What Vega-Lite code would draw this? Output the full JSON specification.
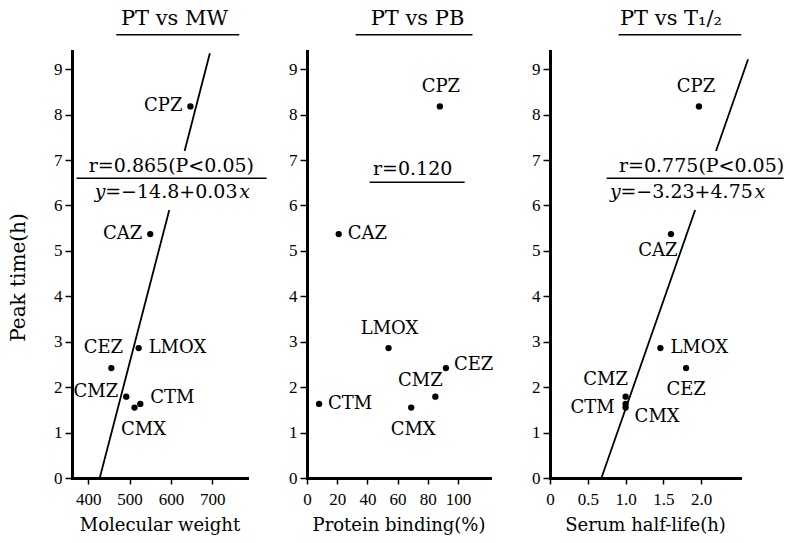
{
  "$schema": "https://vega.github.io/schema/vega-lite/v6.json",
  "padding": {"left": 8, "top": 7, "right": 0, "bottom": 2},
  "background": "white",
  "data": {"values": [
    {"drug": "CPZ", "pt": 8.18, "mw": 647, "pb": 88, "th": 1.97},
    {"drug": "CAZ", "pt": 5.37, "mw": 550, "pb": 21, "th": 1.60},
    {"drug": "LMOX", "pt": 2.86, "mw": 522, "pb": 54, "th": 1.46},
    {"drug": "CEZ", "pt": 2.42, "mw": 456, "pb": 92, "th": 1.80},
    {"drug": "CMZ", "pt": 1.79, "mw": 492, "pb": 85, "th": 1.0},
    {"drug": "CMX", "pt": 1.55, "mw": 512, "pb": 69, "th": 1.0},
    {"drug": "CTM", "pt": 1.63, "mw": 526, "pb": 8, "th": 1.0}
  ]},
  "spacing": 60,
  "bounds": "flush",
  "hconcat": [
    {
      "width": 175, "height": 427,
      "title": {"text": "PT vs MW", "dx": 15},
      "layer": [
        {"mark": {"type": "circle", "size": 40, "color": "black", "opacity": 1},
         "encoding": {
           "x": {"field": "mw", "type": "quantitative", "scale": {"domain": [361, 783.7], "nice": false, "zero": false},
                 "axis": {"values": [400, 500, 600, 700], "tickCount": 10, "title": "Molecular weight", "labelOverlap": false}},
           "y": {"field": "pt", "type": "quantitative", "scale": {"domain": [0, 9.4], "nice": false},
                 "axis": {"values": [0, 1, 2, 3, 4, 5, 6, 7, 8, 9], "tickCount": 12, "title": "Peak time(h)", "titlePadding": 25, "titleY": 226, "labelOverlap": false}}}},
        {"data": {"values": [{}]}, "mark": {"type": "rule", "strokeWidth": 1.5, "color": "black"},
         "encoding": {"x": {"datum": 468}, "x2": {"datum": 765}, "y": {"datum": 9.76}}},
        {"data": {"values": [{"mw": 428, "pt": 0, "seg": "a"}, {"mw": 596, "pt": 5.9, "seg": "a"}, {"mw": 633, "pt": 7.2, "seg": "b"}, {"mw": 694, "pt": 9.35, "seg": "b"}]},
         "mark": {"type": "line", "color": "black", "strokeWidth": 1.8},
         "encoding": {"x": {"field": "mw", "type": "quantitative"}, "y": {"field": "pt", "type": "quantitative"}, "detail": {"field": "seg"}}},
        {"data": {"values": [{}]}, "mark": {"type": "rule", "strokeWidth": 1.5, "color": "black"},
         "encoding": {"x": {"datum": 372}, "x2": {"datum": 831}, "y": {"datum": 6.60}}},
        {"data": {"values": [{}]}, "mark": {"type": "text", "fontSize": 19, "align": "center", "baseline": "alphabetic"},
         "encoding": {"x": {"datum": 601}, "y": {"datum": 6.73}, "text": {"value": "r=0.865(P<0.05)"}}},
        {"data": {"values": [{}]}, "mark": {"type": "text", "fontSize": 19, "align": "center", "baseline": "alphabetic"},
         "encoding": {"x": {"datum": 601}, "y": {"datum": 6.16}, "text": {"value": "=−14.8+0.03"}}},
        {"data": {"values": [{}]}, "mark": {"type": "text", "fontSize": 19, "align": "right", "baseline": "alphabetic", "fontStyle": "italic", "dx": -66},
         "encoding": {"x": {"datum": 601}, "y": {"datum": 6.16}, "text": {"value": "y"}}},
        {"data": {"values": [{}]}, "mark": {"type": "text", "fontSize": 19, "align": "left", "baseline": "alphabetic", "fontStyle": "italic", "dx": 68},
         "encoding": {"x": {"datum": 601}, "y": {"datum": 6.16}, "text": {"value": "x"}}},
        {"transform": [{"filter": {"field": "drug", "oneOf": ["CPZ", "CAZ"]}}],
         "mark": {"type": "text", "align": "right", "baseline": "middle", "dx": -8, "dy": 0, "fontSize": 18},
         "encoding": {"x": {"field": "mw", "type": "quantitative"}, "y": {"field": "pt", "type": "quantitative"}, "text": {"field": "drug"}}},
        {"transform": [{"filter": {"field": "drug", "oneOf": ["CMZ"]}}],
         "mark": {"type": "text", "align": "right", "baseline": "middle", "dx": -8, "dy": -5, "fontSize": 18},
         "encoding": {"x": {"field": "mw", "type": "quantitative"}, "y": {"field": "pt", "type": "quantitative"}, "text": {"field": "drug"}}},
        {"transform": [{"filter": {"field": "drug", "oneOf": ["LMOX"]}}],
         "mark": {"type": "text", "align": "left", "baseline": "middle", "dx": 10, "dy": 0, "fontSize": 18},
         "encoding": {"x": {"field": "mw", "type": "quantitative"}, "y": {"field": "pt", "type": "quantitative"}, "text": {"field": "drug"}}},
        {"transform": [{"filter": {"field": "drug", "oneOf": ["CTM"]}}],
         "mark": {"type": "text", "align": "left", "baseline": "middle", "dx": 10, "dy": -6, "fontSize": 18},
         "encoding": {"x": {"field": "mw", "type": "quantitative"}, "y": {"field": "pt", "type": "quantitative"}, "text": {"field": "drug"}}},
        {"transform": [{"filter": {"field": "drug", "oneOf": ["CEZ"]}}],
         "mark": {"type": "text", "align": "center", "baseline": "middle", "dx": -8, "dy": -20, "fontSize": 18},
         "encoding": {"x": {"field": "mw", "type": "quantitative"}, "y": {"field": "pt", "type": "quantitative"}, "text": {"field": "drug"}}},
        {"transform": [{"filter": {"field": "drug", "oneOf": ["CMX"]}}],
         "mark": {"type": "text", "align": "center", "baseline": "middle", "dx": 9, "dy": 22, "fontSize": 18},
         "encoding": {"x": {"field": "mw", "type": "quantitative"}, "y": {"field": "pt", "type": "quantitative"}, "text": {"field": "drug"}}}
      ]
    },
    {
      "width": 183, "height": 427,
      "title": {"text": "PT vs PB", "dx": 19},
      "layer": [
        {"mark": {"type": "circle", "size": 40, "color": "black", "opacity": 1},
         "encoding": {
           "x": {"field": "pb", "type": "quantitative", "scale": {"domain": [0, 121.2], "nice": false, "zero": false},
                 "axis": {"values": [0, 20, 40, 60, 80, 100], "tickCount": 10, "title": "Protein binding(%)", "labelOverlap": false}},
           "y": {"field": "pt", "type": "quantitative", "scale": {"domain": [0, 9.4], "nice": false},
                 "axis": {"values": [0, 1, 2, 3, 4, 5, 6, 7, 8, 9], "tickCount": 12, "title": null, "labelOverlap": false}}}},
        {"data": {"values": [{}]}, "mark": {"type": "rule", "strokeWidth": 1.5, "color": "black"},
         "encoding": {"x": {"datum": 32.2}, "x2": {"datum": 109.6}, "y": {"datum": 9.76}}},
        {"data": {"values": [{}]}, "mark": {"type": "rule", "strokeWidth": 1.5, "color": "black"},
         "encoding": {"x": {"datum": 41.5}, "x2": {"datum": 104.4}, "y": {"datum": 6.51}}},
        {"data": {"values": [{}]}, "mark": {"type": "text", "fontSize": 19, "align": "center", "baseline": "alphabetic"},
         "encoding": {"x": {"datum": 70}, "y": {"datum": 6.66}, "text": {"value": "r=0.120"}}},
        {"transform": [{"filter": {"field": "drug", "oneOf": ["CPZ", "LMOX"]}}],
         "mark": {"type": "text", "align": "center", "baseline": "middle", "dx": 1, "dy": -19, "fontSize": 18},
         "encoding": {"x": {"field": "pb", "type": "quantitative"}, "y": {"field": "pt", "type": "quantitative"}, "text": {"field": "drug"}}},
        {"transform": [{"filter": {"field": "drug", "oneOf": ["CAZ", "CTM"]}}],
         "mark": {"type": "text", "align": "left", "baseline": "middle", "dx": 9, "dy": 0, "fontSize": 18},
         "encoding": {"x": {"field": "pb", "type": "quantitative"}, "y": {"field": "pt", "type": "quantitative"}, "text": {"field": "drug"}}},
        {"transform": [{"filter": {"field": "drug", "oneOf": ["CEZ"]}}],
         "mark": {"type": "text", "align": "left", "baseline": "middle", "dx": 8, "dy": -3, "fontSize": 18},
         "encoding": {"x": {"field": "pb", "type": "quantitative"}, "y": {"field": "pt", "type": "quantitative"}, "text": {"field": "drug"}}},
        {"transform": [{"filter": {"field": "drug", "oneOf": ["CMZ"]}}],
         "mark": {"type": "text", "align": "center", "baseline": "middle", "dx": -15, "dy": -16, "fontSize": 18},
         "encoding": {"x": {"field": "pb", "type": "quantitative"}, "y": {"field": "pt", "type": "quantitative"}, "text": {"field": "drug"}}},
        {"transform": [{"filter": {"field": "drug", "oneOf": ["CMX"]}}],
         "mark": {"type": "text", "align": "center", "baseline": "middle", "dx": 2, "dy": 22, "fontSize": 18},
         "encoding": {"x": {"field": "pb", "type": "quantitative"}, "y": {"field": "pt", "type": "quantitative"}, "text": {"field": "drug"}}}
      ]
    },
    {
      "width": 190, "height": 427,
      "title": {"text": "PT vs T₁/₂", "dx": 26},
      "layer": [
        {"mark": {"type": "circle", "size": 40, "color": "black", "opacity": 1},
         "encoding": {
           "x": {"field": "th", "type": "quantitative", "scale": {"domain": [0, 2.513], "nice": false, "zero": false},
                 "axis": {"values": [0, 0.5, 1, 1.5, 2], "tickCount": 10, "title": "Serum half-life(h)", "labelOverlap": false, "labelExpr": "datum.value == 0 ? '0' : format(datum.value, '.1f')"}},
           "y": {"field": "pt", "type": "quantitative", "scale": {"domain": [0, 9.4], "nice": false},
                 "axis": {"values": [0, 1, 2, 3, 4, 5, 6, 7, 8, 9], "tickCount": 12, "title": null, "labelOverlap": false}}}},
        {"data": {"values": [{}]}, "mark": {"type": "rule", "strokeWidth": 1.5, "color": "black"},
         "encoding": {"x": {"datum": 0.906}, "x2": {"datum": 2.53}, "y": {"datum": 9.76}}},
        {"data": {"values": [{"th": 0.68, "pt": 0, "seg": "a"}, {"th": 1.92, "pt": 5.9, "seg": "a"}, {"th": 2.196, "pt": 7.2, "seg": "b"}, {"th": 2.62, "pt": 9.22, "seg": "b"}]},
         "mark": {"type": "line", "color": "black", "strokeWidth": 1.8},
         "encoding": {"x": {"field": "th", "type": "quantitative"}, "y": {"field": "pt", "type": "quantitative"}, "detail": {"field": "seg"}}},
        {"data": {"values": [{}]}, "mark": {"type": "rule", "strokeWidth": 1.5, "color": "black"},
         "encoding": {"x": {"datum": 0.75}, "x2": {"datum": 3.09}, "y": {"datum": 6.60}}},
        {"data": {"values": [{}]}, "mark": {"type": "text", "fontSize": 19, "align": "center", "baseline": "alphabetic"},
         "encoding": {"x": {"datum": 2.005}, "y": {"datum": 6.73}, "text": {"value": "r=0.775(P<0.05)"}}},
        {"data": {"values": [{}]}, "mark": {"type": "text", "fontSize": 19, "align": "center", "baseline": "alphabetic"},
         "encoding": {"x": {"datum": 1.807}, "y": {"datum": 6.16}, "text": {"value": "=−3.23+4.75"}}},
        {"data": {"values": [{}]}, "mark": {"type": "text", "fontSize": 19, "align": "right", "baseline": "alphabetic", "fontStyle": "italic", "dx": -66},
         "encoding": {"x": {"datum": 1.807}, "y": {"datum": 6.16}, "text": {"value": "y"}}},
        {"data": {"values": [{}]}, "mark": {"type": "text", "fontSize": 19, "align": "left", "baseline": "alphabetic", "fontStyle": "italic", "dx": 68},
         "encoding": {"x": {"datum": 1.807}, "y": {"datum": 6.16}, "text": {"value": "x"}}},
        {"transform": [{"filter": {"field": "drug", "oneOf": ["CPZ"]}}],
         "mark": {"type": "text", "align": "center", "baseline": "middle", "dx": -3, "dy": -19, "fontSize": 18},
         "encoding": {"x": {"field": "th", "type": "quantitative"}, "y": {"field": "pt", "type": "quantitative"}, "text": {"field": "drug"}}},
        {"transform": [{"filter": {"field": "drug", "oneOf": ["CAZ"]}}],
         "mark": {"type": "text", "align": "center", "baseline": "middle", "dx": -13, "dy": 17, "fontSize": 18},
         "encoding": {"x": {"field": "th", "type": "quantitative"}, "y": {"field": "pt", "type": "quantitative"}, "text": {"field": "drug"}}},
        {"transform": [{"filter": {"field": "drug", "oneOf": ["LMOX"]}}],
         "mark": {"type": "text", "align": "left", "baseline": "middle", "dx": 10, "dy": 0, "fontSize": 18},
         "encoding": {"x": {"field": "th", "type": "quantitative"}, "y": {"field": "pt", "type": "quantitative"}, "text": {"field": "drug"}}},
        {"transform": [{"filter": {"field": "drug", "oneOf": ["CEZ"]}}],
         "mark": {"type": "text", "align": "center", "baseline": "middle", "dx": 0, "dy": 22, "fontSize": 18},
         "encoding": {"x": {"field": "th", "type": "quantitative"}, "y": {"field": "pt", "type": "quantitative"}, "text": {"field": "drug"}}},
        {"transform": [{"filter": {"field": "drug", "oneOf": ["CMZ"]}}],
         "mark": {"type": "text", "align": "center", "baseline": "middle", "dx": -20, "dy": -17, "fontSize": 18},
         "encoding": {"x": {"field": "th", "type": "quantitative"}, "y": {"field": "pt", "type": "quantitative"}, "text": {"field": "drug"}}},
        {"transform": [{"filter": {"field": "drug", "oneOf": ["CTM"]}}],
         "mark": {"type": "text", "align": "right", "baseline": "middle", "dx": -11, "dy": 4, "fontSize": 18},
         "encoding": {"x": {"field": "th", "type": "quantitative"}, "y": {"field": "pt", "type": "quantitative"}, "text": {"field": "drug"}}},
        {"transform": [{"filter": {"field": "drug", "oneOf": ["CMX"]}}],
         "mark": {"type": "text", "align": "left", "baseline": "middle", "dx": 9, "dy": 9, "fontSize": 18},
         "encoding": {"x": {"field": "th", "type": "quantitative"}, "y": {"field": "pt", "type": "quantitative"}, "text": {"field": "drug"}}}
      ]
    }
  ],
  "config": {
    "font": "DejaVu Serif",
    "view": {"stroke": null},
    "text": {"font": "DejaVu Serif", "color": "black"},
    "title": {"font": "DejaVu Serif", "fontSize": 21, "fontWeight": "normal", "color": "black", "frame": "group", "anchor": "middle", "offset": 5, "baseline": "alphabetic"},
    "axis": {"grid": false, "domainColor": "black", "domainWidth": 3, "domainCap": "square", "tickColor": "black", "tickWidth": 1.5,
             "labelColor": "black", "labelFont": "Liberation Serif", "labelFontSize": 17, "labelOverlap": false, "labelFlush": false,
             "titleFont": "DejaVu Serif", "titleFontSize": 18, "titleFontWeight": "normal", "titleColor": "black"},
    "axisX": {"tickSize": 6, "labelPadding": 7, "titlePadding": 9},
    "axisY": {"tickSize": 7, "labelPadding": 3, "titleFontSize": 20}
  }
}
